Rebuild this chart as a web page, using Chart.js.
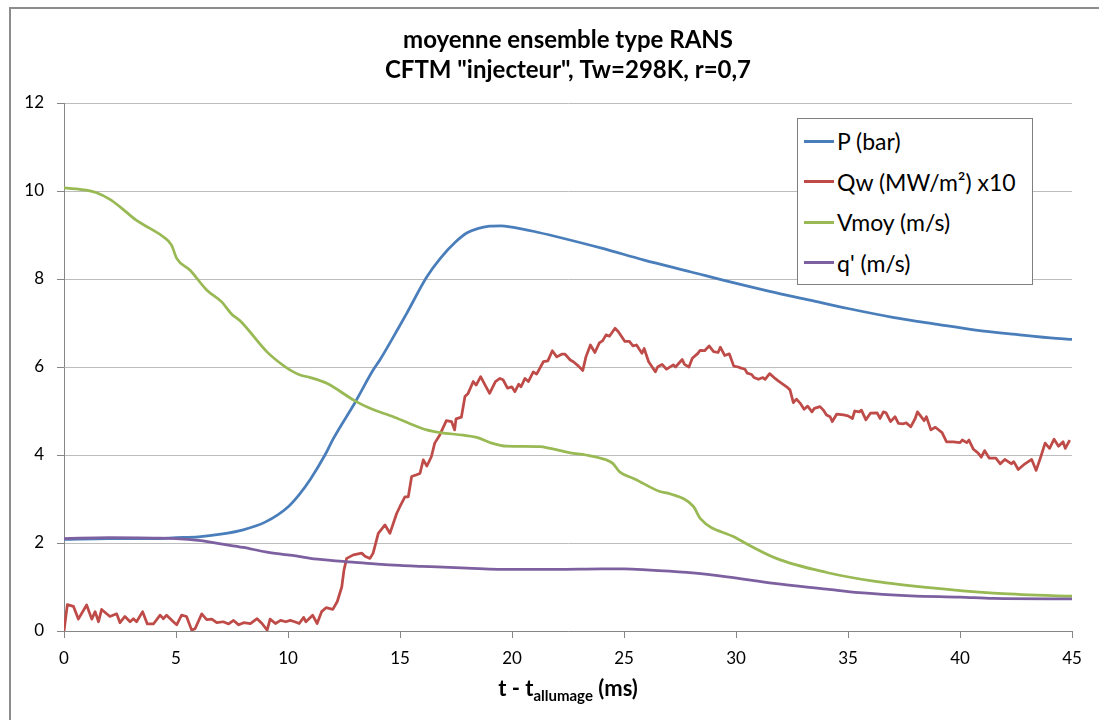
<!DOCTYPE html>
<html>
<head>
<meta charset="utf-8">
<script src="https://cdn.jsdelivr.net/npm/chart.js@4.4.0/dist/chart.umd.min.js"></script>
<style>
  html, body { margin: 0; padding: 0; background: #fff; overflow: hidden; }
  #wrap { position: relative; width: 1099px; height: 720px; overflow: hidden; }
  #chartCanvas { position: absolute; left: 0; top: 0; }
  #frame { position: absolute; left: 9px; top: 7px; width: 1200px; height: 800px;
           border-left: 2px solid #8c8c8c; border-top: 2px solid #8c8c8c; pointer-events: none; }
  #legend { position: absolute; left: 797px; top: 118px; width: 234px; height: 163px;
            border: 1px solid #7f7f7f; background: #fff; padding-top: 2px; box-sizing: content-box; }
  #legend .row { height: 40.5px; display: flex; align-items: center; }
  #legend .sw { width: 30px; height: 3px; margin-left: 6px; margin-right: 3px; }
  #legend .txt { font-family: Lato, sans-serif; font-size: 23px; color: #000; white-space: nowrap; }
  #xtitle { position: absolute; left: 0; width: 1136px; top: 674px; text-align: center;
            font-family: Lato, sans-serif; font-weight: bold; font-size: 22px; color: #000; }
  #xtitle sub { font-size: 15px; }
</style>
</head>
<body>
<div id="wrap">
  <canvas id="chartCanvas" width="1134" height="720"></canvas>
  <div id="legend"></div>
  <div id="xtitle">t - t<sub>allumage</sub> (ms)</div>
  <div id="frame"></div>
</div>
<script>
// P (bar)
var pTime = [0, 2, 4, 5, 6, 7, 8, 9, 10, 10.5, 11, 11.65, 12, 13, 13.8, 14.1, 15, 15.3, 16.2, 16.8, 17.5, 18, 18.5, 19, 19.5, 20, 21, 22, 24, 25.9, 28, 29.6, 31.5, 33.3, 35, 37, 39, 40.7, 42.5, 44.3, 45];
var pBar  = [2.08, 2.1, 2.1, 2.12, 2.14, 2.2, 2.3, 2.48, 2.82, 3.1, 3.45, 4.0, 4.35, 5.2, 5.93, 6.16, 6.95, 7.22, 8.05, 8.47, 8.85, 9.05, 9.15, 9.2, 9.21, 9.18, 9.08, 8.96, 8.7, 8.43, 8.16, 7.95, 7.72, 7.52, 7.33, 7.13, 6.97, 6.84, 6.74, 6.65, 6.63];

// Qw (MW/m2) x10
var qwTime = [0, 0.15, 0.42, 0.64, 1.01, 1.24, 1.39, 1.54, 1.68, 2.05, 2.35, 2.5, 2.72, 2.95, 3.1, 3.24, 3.51, 3.72, 3.99, 4.29,
  4.44, 4.58, 4.88, 5.03, 5.25, 5.47, 5.7, 5.85, 6.15, 6.37, 6.6, 6.82, 7.11, 7.35, 7.57, 7.8, 8.02, 8.32, 8.62, 8.84,
  9.07, 9.2, 9.44, 9.67, 9.9, 10.1, 10.3, 10.5, 10.7, 10.8, 11.1, 11.3, 11.5, 11.7, 12.0, 12.2, 12.4, 12.5, 12.62, 12.92,
  13.29, 13.44, 13.66, 13.8, 14.03, 14.33, 14.55, 14.85, 15.0, 15.22, 15.37, 15.52, 15.74, 15.89, 16.04, 16.2, 16.4, 16.55, 16.77, 17.07,
  17.3, 17.44, 17.5, 17.74, 17.9, 18.04, 18.27, 18.4, 18.6, 18.8, 19.0, 19.26, 19.46, 19.6, 19.8, 19.99, 20.13, 20.3, 20.4, 20.58,
  20.73, 20.95, 21.1, 21.4, 21.6, 21.8, 22.0, 22.22, 22.37, 22.6, 22.74, 22.97, 23.16, 23.3, 23.5, 23.7, 23.9, 24.05, 24.2, 24.35,
  24.6, 24.75, 25.04, 25.24, 25.4, 25.56, 25.8, 25.9, 26.1, 26.4, 26.5, 26.7, 26.9, 27.2, 27.3, 27.6, 27.7, 27.9, 28.05, 28.3,
  28.4, 28.6, 28.8, 29.0, 29.2, 29.3, 29.5, 29.7, 29.9, 30.1, 30.2, 30.4, 30.5, 30.7, 30.8, 31.0, 31.2, 31.3, 31.5, 31.7,
  31.9, 32.26, 32.41, 32.56, 32.7, 32.86, 33.04, 33.2, 33.39, 33.5, 33.75, 33.9, 34.04, 34.2, 34.3, 34.5, 34.8, 35.0, 35.2, 35.3,
  35.5, 35.6, 35.8, 36.0, 36.3, 36.43, 36.58, 36.7, 36.9, 37.1, 37.25, 37.47, 37.6, 37.8, 38.0, 38.1, 38.4, 38.5, 38.7, 38.9,
  39.2, 39.4, 39.7, 40.0, 40.1, 40.3, 40.4, 40.6, 40.8, 40.95, 41.1, 41.3, 41.6, 41.8, 42.0, 42.3, 42.4, 42.6, 42.9, 43.2,
  43.4, 43.6, 43.8, 44.0, 44.2, 44.4, 44.6, 44.7, 44.9];
var qwVal = [0, 0.6, 0.56, 0.27, 0.59, 0.27, 0.44, 0.21, 0.49, 0.33, 0.39, 0.19, 0.33, 0.21, 0.28, 0.21, 0.44, 0.16, 0.16, 0.36,
  0.28, 0.36, 0.21, 0.14, 0.36, 0.33, 0.02, 0.05, 0.39, 0.26, 0.27, 0.19, 0.21, 0.16, 0.24, 0.14, 0.19, 0.17, 0.28, 0.17,
  0.02, 0.27, 0.17, 0.24, 0.21, 0.24, 0.21, 0.17, 0.31, 0.21, 0.36, 0.17, 0.44, 0.53, 0.49, 0.67, 1.0, 1.39, 1.65, 1.73,
  1.77, 1.7, 1.65, 1.77, 2.22, 2.41, 2.22, 2.67, 2.83, 3.05, 3.05, 3.51, 3.55, 3.58, 3.89, 3.75, 3.96, 4.27, 4.45, 4.78,
  4.76, 4.57, 4.82, 4.86, 5.33, 5.4, 5.67, 5.59, 5.78, 5.59, 5.4, 5.67, 5.74, 5.71, 5.52, 5.55, 5.44, 5.61, 5.55, 5.74,
  5.67, 5.89, 5.84, 6.12, 6.14, 6.37, 6.23, 6.29, 6.29, 6.16, 6.12, 6.02, 5.92, 6.23, 6.5, 6.33, 6.55, 6.6, 6.73, 6.7,
  6.88, 6.8, 6.58, 6.58, 6.48, 6.5, 6.31, 6.42, 6.12, 5.89, 6.0, 6.06, 5.95, 6.05, 6.0, 6.17, 6.06, 6.0, 6.2, 6.31,
  6.38, 6.37, 6.48, 6.35, 6.33, 6.45, 6.26, 6.3, 6.02, 6.0, 5.98, 5.95, 5.86, 5.83, 5.76, 5.72, 5.76, 5.72, 5.85, 5.76,
  5.68, 5.55, 5.48, 5.19, 5.27, 5.18, 5.04, 5.11, 4.98, 5.06, 5.1, 5.02, 4.91, 4.87, 4.76, 4.93, 4.91, 4.89, 4.83, 5.0,
  4.98, 5.02, 4.8, 4.95, 4.96, 4.83, 4.98, 4.96, 4.76, 4.87, 4.72, 4.71, 4.73, 4.64, 4.83, 4.98, 4.78, 4.87, 4.57, 4.63,
  4.51, 4.3, 4.3, 4.28, 4.34, 4.28, 4.34, 4.13, 4.05, 3.95, 4.1, 3.93, 3.93, 3.8, 3.9, 3.8, 3.85, 3.67, 3.8, 3.9,
  3.65, 3.95, 4.27, 4.15, 4.36, 4.2, 4.3, 4.15, 4.34];

// Vmoy (m/s)
var vTime = [0, 1, 1.46, 2.05, 2.5, 3.24, 3.84, 4.43, 4.8, 5.03, 5.63, 6.37, 7.04, 7.49, 7.86, 9.05, 9.57, 10.1, 10.54, 11.0,
  11.73, 12.99, 13.66, 14.7, 15.5, 16.19, 16.79, 17.83, 18.42, 19.09, 19.76, 21.25, 21.7, 22.6, 23.3, 24.2, 24.5, 24.8, 25.5, 26.6,
  27.05, 28.1, 28.4, 29.9, 31.8, 34.05, 36.3, 38.5, 41.5, 44.3, 45];
var vMoy = [10.07, 10.02, 9.96, 9.81, 9.64, 9.33, 9.15, 8.96, 8.77, 8.47, 8.2, 7.75, 7.48, 7.2, 7.05, 6.35, 6.12, 5.93, 5.82, 5.76,
  5.63, 5.23, 5.06, 4.87, 4.7, 4.57, 4.51, 4.45, 4.4, 4.27, 4.2, 4.19, 4.15, 4.05, 4.0, 3.89, 3.81, 3.62, 3.45, 3.17,
  3.12, 2.83, 2.56, 2.14, 1.65, 1.33, 1.12, 0.99, 0.86, 0.8, 0.79];

// q' (m/s)
var qTime  = [0, 2, 4, 5, 6, 7, 8, 9, 10, 10.54, 11, 12, 13, 14, 15, 16, 18, 20, 22, 24, 25, 26, 27.8, 29.6, 31.7, 34.05, 35.5, 37.8, 40, 41.5, 45];
var qPrime = [2.1, 2.12, 2.11, 2.1, 2.06, 1.98, 1.9, 1.8, 1.73, 1.69, 1.65, 1.6, 1.56, 1.52, 1.49, 1.47, 1.43, 1.4, 1.4, 1.41, 1.41, 1.39, 1.33, 1.23, 1.08, 0.95, 0.87, 0.8, 0.77, 0.74, 0.73];

var xTicks = {min: 0, max: 45, step: 5};
var yTicks = {min: 0, max: 12, step: 2};

function pts(xs, ys) {
  return xs.map(function(x, i) { return {x: x, y: ys[i]}; });
}

var fontFam = "Lato, 'Open Sans', sans-serif";

var data = {
  datasets: [
    { label: "P (bar)", data: pts(pTime, pBar), borderColor: "#4a7ebb", order: 4, cubicInterpolationMode: "monotone" },
    { label: "Qw (MW/m²) x10", data: pts(qwTime, qwVal), borderColor: "#be4b48", order: 3, tension: 0 },
    { label: "Vmoy (m/s)", data: pts(vTime, vMoy), borderColor: "#98b954", order: 2, cubicInterpolationMode: "monotone" },
    { label: "q' (m/s)", data: pts(qTime, qPrime), borderColor: "#7d60a0", order: 1, cubicInterpolationMode: "monotone" }
  ]
};
data.datasets.forEach(function(d) {
  d.borderWidth = 2.75;
  d.pointRadius = 0;
  d.fill = false;
  d.borderJoinStyle = "round";
});

var ctx = document.getElementById("chartCanvas").getContext("2d");
var chart = new Chart(ctx, {
  type: "line",
  data: data,
  options: {
    responsive: false,
    animation: false,
    layout: { padding: { left: 10, right: 62, top: 0, bottom: 49 } },
    plugins: {
      legend: { display: false },
      tooltip: { enabled: false },
      title: {
        display: true,
        fullSize: false,
        text: ["moyenne ensemble type RANS", "CFTM \"injecteur\", Tw=298K, r=0,7"],
        color: "#000",
        font: { family: fontFam, size: 24, weight: "bold", lineHeight: 1.25 },
        padding: { top: 25, bottom: 18 }
      }
    },
    scales: {
      x: {
        type: "linear",
        min: xTicks.min, max: xTicks.max,
        ticks: { stepSize: xTicks.step, color: "#000", font: { family: fontFam, size: 17 }, padding: 10, maxRotation: 0 },
        grid: { drawOnChartArea: false, drawTicks: true, tickLength: 7, tickColor: "#868686" },
        border: { color: "#868686", width: 1 },
        afterFit: function(scale) { scale.height = 40; }
      },
      y: {
        min: yTicks.min, max: yTicks.max,
        ticks: { stepSize: yTicks.step, color: "#000", font: { family: fontFam, size: 17 }, padding: 13 },
        grid: { color: "#bdbdbd", tickLength: 7, tickColor: "#868686" },
        border: { color: "#868686", width: 1 },
        afterFit: function(scale) { scale.width = 54; }
      }
    }
  }
});

// html legend built from the datasets
var legendEl = document.getElementById("legend");
chart.data.datasets.forEach(function(d) {
  var row = document.createElement("div");
  row.className = "row";
  row.innerHTML = '<span class="sw" style="background:' + d.borderColor + '"></span><span class="txt"></span>';
  row.querySelector(".txt").textContent = d.label;
  legendEl.appendChild(row);
});
</script>
</body>
</html>
